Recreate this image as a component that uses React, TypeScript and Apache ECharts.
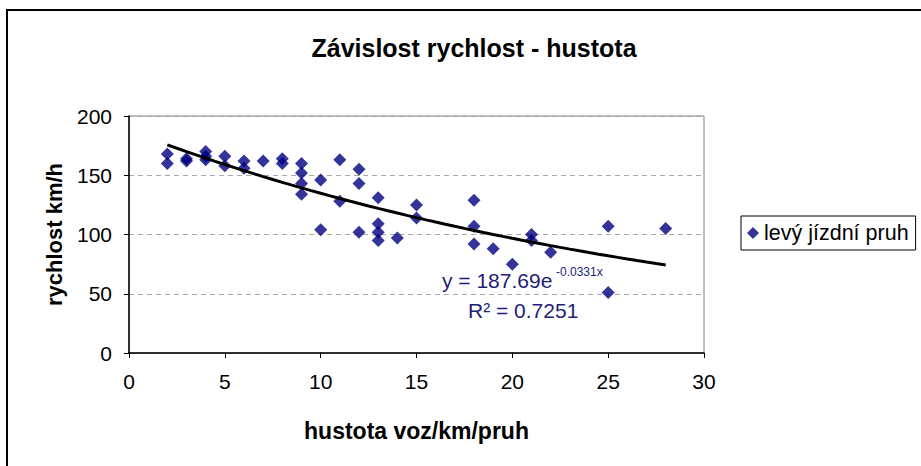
import React, { useEffect, useRef } from "react";
import * as echarts from "echarts";

const title = "Závislost rychlost - hustota";
const xAxisTitle = "hustota voz/km/pruh";
const yAxisTitle = "rychlost km/h";
const seriesName = "levý jízdní pruh";

const density: number[] = [
  2, 2, 3, 3, 4, 4, 4, 5, 5, 6, 6, 7, 8, 8, 9, 9, 9, 9, 10, 10, 11, 11, 12, 12, 12,
  13, 13, 13, 13, 14, 15, 15, 18, 18, 18, 19, 20, 21, 21, 22, 25, 25, 28,
];
const speed: number[] = [
  168, 160, 164, 162, 170, 166, 163, 166, 158, 162, 156, 162, 164, 160, 160, 152, 143, 134, 146, 104, 163, 128, 155, 143, 102,
  131, 109, 102, 95, 97, 125, 114, 129, 107, 92, 88, 75, 100, 95, 85, 107, 51, 105,
];

// trendline constants as shown in the chart's equation
const trendA = 187.69;
const trendB = -0.0331;
const trendFrom = 2;
const trendTo = 28;
const equationText = "y = 187.69e";
const exponentText = "-0.0331x";
const r2Text = "R² = 0.7251";

const FONT = "'Liberation Sans', Arial, sans-serif";

export default function App() {
  const ref = useRef<HTMLDivElement>(null);
  useEffect(() => {
    if (!ref.current) return;
    const chart = echarts.init(ref.current, null, { renderer: "svg" });
    const points = density.map((d, i) => [d, speed[i]]);
    const trend: number[][] = [];
    for (let x = trendFrom; x <= trendTo + 1e-9; x += 0.5) {
      trend.push([x, trendA * Math.exp(trendB * x)]);
    }
    chart.setOption({
      animation: false,
      backgroundColor: "#ffffff",
      textStyle: { fontFamily: FONT },
      title: {
        text: title,
        left: 469,
        top: 30,
        textAlign: "center",
        textStyle: { fontFamily: FONT, fontSize: 25, fontWeight: "bold", color: "#000" },
      },
      grid: { left: 129, top: 116, right: 217, bottom: 113, show: true, borderColor: "#808080", borderWidth: 1 },
      legend: {
        left: 741,
        top: 216,
        orient: "vertical",
        data: [{ name: seriesName, icon: "diamond" }],
        itemWidth: 12,
        itemHeight: 12,
        itemGap: 4,
        padding: [6, 7, 6, 6],
        borderColor: "#000",
        borderWidth: 1,
        backgroundColor: "#fff",
        textStyle: { fontFamily: FONT, fontSize: 21.5, color: "#000" },
      },
      xAxis: {
        type: "value",
        min: 0,
        max: 30,
        interval: 5,
        name: xAxisTitle,
        nameLocation: "middle",
        nameGap: 66,
        nameMoveOverlap: false,
        nameTextStyle: { fontFamily: FONT, fontSize: 23, fontWeight: "bold", color: "#000" },
        axisLine: { show: true, onZero: false, lineStyle: { color: "#000", width: 1.5 } },
        axisTick: { show: true, inside: false, length: 5, lineStyle: { color: "#000" } },
        axisLabel: { fontFamily: FONT, fontSize: 21, color: "#000", margin: 18 },
        splitLine: { show: false },
      },
      yAxis: {
        type: "value",
        min: 0,
        max: 200,
        interval: 50,
        name: yAxisTitle,
        nameLocation: "middle",
        nameGap: 64,
        nameMoveOverlap: false,
        nameRotate: 90,
        nameTextStyle: { fontFamily: FONT, fontSize: 22, fontWeight: "bold", color: "#000" },
        axisLine: { show: true, onZero: false, lineStyle: { color: "#000", width: 1.5 } },
        axisTick: { show: true, inside: false, length: 5, lineStyle: { color: "#000" } },
        axisLabel: { fontFamily: FONT, fontSize: 21, color: "#000", margin: 17 },
        splitLine: { show: true, lineStyle: { color: "#a8a8a8", type: [5, 4], width: 1 } },
      },
      series: [
        {
          name: seriesName,
          type: "scatter",
          symbol: "diamond",
          symbolSize: 13,
          itemStyle: { color: "#000080" },
          data: points,
          z: 3,
        },
        {
          name: "trend",
          type: "line",
          data: trend,
          showSymbol: false,
          symbol: "none",
          lineStyle: { color: "#000", width: 3 },
          z: 4,
          silent: true,
        },
      ],
      graphic: [
        {
          type: "rect",
          shape: { x: 7, y: 10, width: 1000, height: 1000 },
          style: { fill: "none", stroke: "#000", lineWidth: 2 },
          silent: true,
        },
        {
          type: "text",
          x: 442,
          y: 270,
          style: { text: equationText, fontFamily: FONT, fontSize: 21, fill: "#1e1e78" },
          z: 10,
        },
        {
          type: "text",
          x: 556,
          y: 266,
          style: { text: exponentText, fontFamily: FONT, fontSize: 12, fill: "#1e1e78" },
          z: 10,
        },
        {
          type: "text",
          x: 468,
          y: 300,
          style: { text: r2Text, fontFamily: FONT, fontSize: 21, fill: "#1e1e78" },
          z: 10,
        },
      ],
    });
    return () => chart.dispose();
  }, []);
  return (
    <div
      ref={ref}
      style={{ position: "fixed", left: 0, top: 0, width: 921, height: 466, background: "#fff" }}
    />
  );
}
